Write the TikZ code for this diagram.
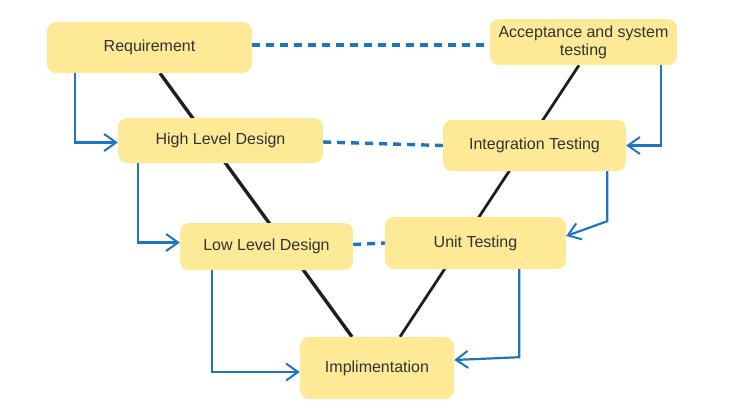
\documentclass[tikz,border=0pt]{standalone}
\usepackage{fontspec}
\setmainfont{Liberation Sans}
\usetikzlibrary{arrows.meta,backgrounds}
\definecolor{boxfill}{RGB}{253,233,150}
\definecolor{flowblue}{RGB}{30,115,195}
\definecolor{txt}{RGB}{51,51,51}
\begin{document}
\begin{tikzpicture}[x=1pt,y=-1pt,
  stage/.style={rectangle, rounded corners=9pt, fill=boxfill, text=txt,
    font=\fontsize{16}{18}\selectfont, align=center, inner sep=0pt},
  vline/.style={line width=3.4pt, black!88},
  link/.style={flowblue, line width=3.4pt, dash pattern=on 8pt off 6pt},
  flow/.style={flowblue, line width=2.2pt, -{Straight Barb[length=12pt,width=17pt,line width=2pt]}}
]
\useasboundingbox (0,0) rectangle (739,413);

% stages of the V
\node[stage, minimum width=205pt, minimum height=51pt] (req) at (149.5,47.5) {Requirement};
\node[stage, minimum width=187pt, minimum height=46pt] (acc) at (583.5,42) {Acceptance and system\\testing};
\node[stage, minimum width=205pt, minimum height=45pt] (hld) at (220.5,140.5) {High Level Design};
\node[stage, minimum width=183pt, minimum height=51pt] (int) at (534.5,145.5) {Integration Testing};
\node[stage, minimum width=173pt, minimum height=47pt] (lld) at (266.5,246.5) {Low Level Design};
\node[stage, minimum width=181pt, minimum height=52pt] (unit) at (475.5,243) {Unit Testing};
\node[stage, minimum width=154pt, minimum height=62pt] (impl) at (377,368) {Implimentation};

% the two arms of the V, passing behind the boxes
\coordinate (la) at (160,0);
\coordinate (lb) at (352,0);
\coordinate (ra) at (579,0);
\coordinate (rb) at (400,0);
\begin{pgfonlayer}{background}
  \draw[vline] (req.south -| la) -- (impl.north -| lb);
  \draw[vline, line width=2.8pt] (acc.south -| ra) -- (impl.north -| rb);
\end{pgfonlayer}

% links between matching phases
\draw[link] ([yshift=2.5pt]req.east) -- ([yshift=-3pt]acc.west);
\draw[link] ([yshift=-1.5pt]hld.east) -- (int.west);
\draw[link] ([yshift=2pt]lld.east) -- (unit.west);

% flow down the left arm
\draw[flow] ([xshift=28pt]req.south west) |- ([yshift=-2pt]hld.west);
\draw[flow] ([xshift=20pt]hld.south west) |- ([yshift=4pt]lld.west);
\draw[flow] ([xshift=32pt]lld.south west) |- ([yshift=-4pt]impl.west);

% flow up the right arm
\draw[flow] ([xshift=-16pt]acc.south east) |- (int.east);
\draw[flow] ([xshift=-19pt]int.south east) -- ++(0,50) -- ([yshift=7pt]unit.east);
\draw[flow] ([xshift=-47pt]unit.south east) -- ++(0,88) -- ([yshift=8pt]impl.east);
\end{tikzpicture}
\end{document}
